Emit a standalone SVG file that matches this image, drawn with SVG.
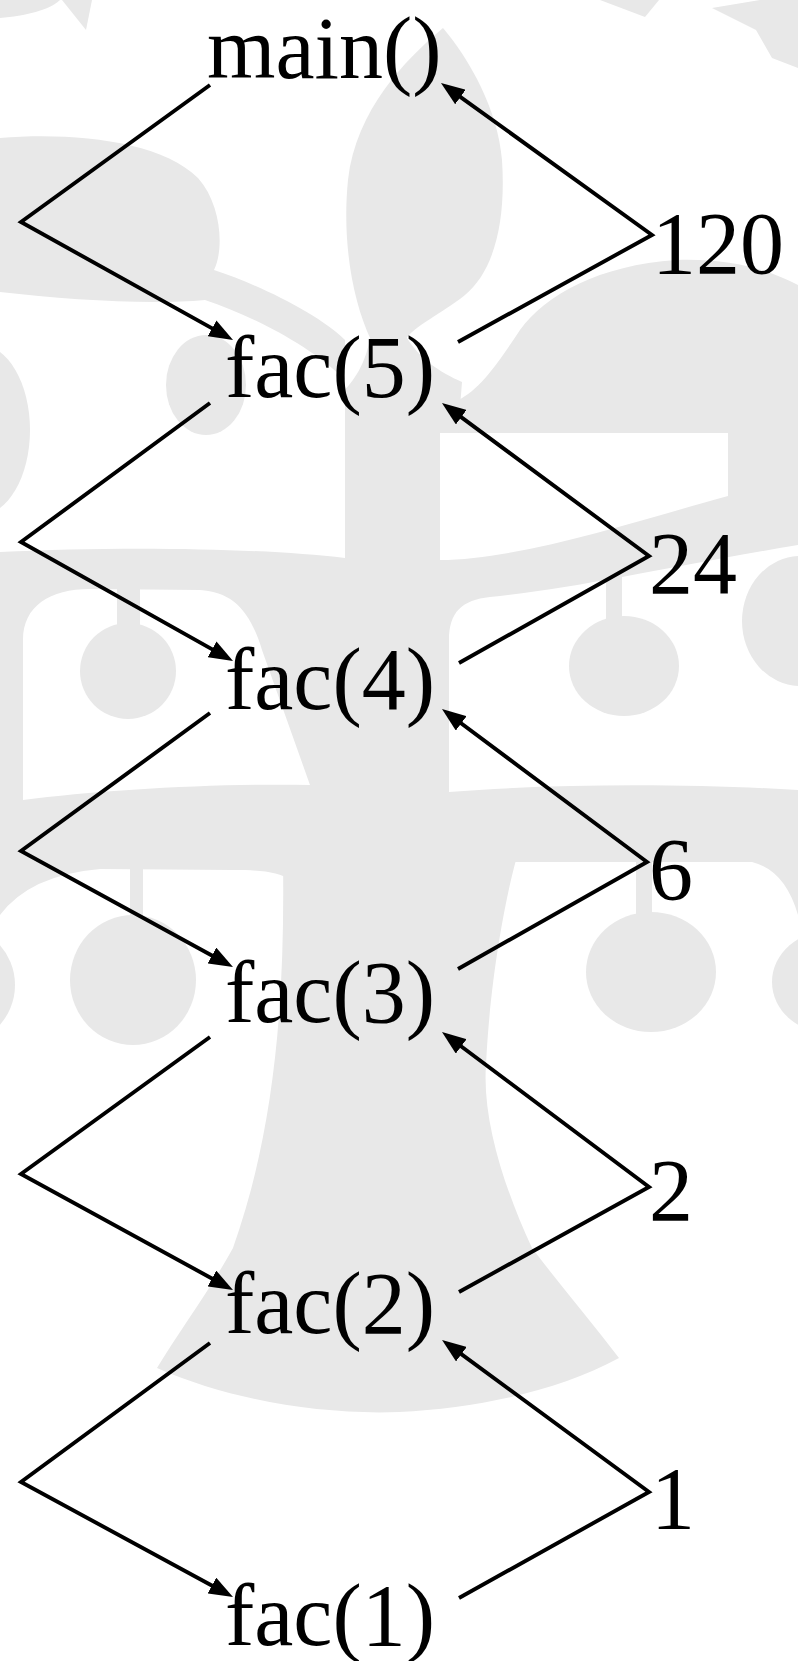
<svg xmlns="http://www.w3.org/2000/svg" width="798" height="1661" viewBox="0 0 798 1661">
<style>
.lbl{font-family:"Liberation Serif","Times New Roman",serif;font-size:88px;fill:#000}
.wm{fill:#e8e8e8}
.wmw{fill:#ffffff}
.edge{fill:none;stroke:#000;stroke-width:3.9;stroke-linejoin:miter;marker-end:url(#ah)}
</style>
<defs>
<marker id="ah" markerUnits="userSpaceOnUse" viewBox="0 0 24 18" markerWidth="24" markerHeight="18" refX="14" refY="9" orient="auto">
<path d="M0,0 L24,9 L0,18 Z" fill="#000"/>
</marker>
</defs>
<rect width="798" height="1661" fill="#ffffff"/>
<g id="watermark">
<path class="wm" d="M0,0 H60 C50,10 25,16 0,18 Z"/>
<path class="wm" d="M62,0 H92 L86,30 Z"/>
<path class="wm" d="M600,0 H659 L645,17 Z"/>
<path class="wm" d="M712,8 L760,0 H798 V68 L772,58 L756,30 Z"/>
<path class="wm" d="M0,138 C70,132 160,140 198,178 C222,205 224,250 214,270 C260,285 320,315 345,340 L345,380 C310,345 250,315 205,300 C150,305 70,300 0,292 Z"/>
<path class="wm" d="M443,28 C470,60 498,110 502,160 C506,220 495,270 465,295 C440,315 415,325 405,340 L371,340 C352,300 342,240 348,180 C356,110 405,60 443,28 Z"/>
<path class="wm" d="M458,433 L458,400 C480,390 500,360 520,330 C545,295 600,265 676,260 C730,258 770,270 798,285 V420 L728,420 L728,433 Z"/>
<path class="wm" d="M340,395 C355,380 365,365 371,335 L405,335 C420,360 440,372 462,382 L458,433 L440,433 L440,395 Z"/>
<ellipse class="wm" cx="206" cy="385" rx="40" ry="50"/>
<ellipse class="wm" cx="-20" cy="430" rx="50" ry="85"/>
<path class="wm" d="M0,552 C120,546 260,548 345,558 L345,395 L440,395 L440,560 C520,560 640,520 728,496 L728,420 L798,420 L798,915 Q785,870 752,862 L516,862 L290,880 C280,872 260,870 233,870 L100,869 Q30,875 0,915 Z"/>
<path class="wmw" d="M23,800 L23,640 C23,606 50,589 90,589 L200,590 C232,592 250,610 262,650 L310,785 C220,783 100,790 23,800 Z"/>
<path class="wmw" d="M449,792 L449,640 C449,612 462,600 490,597 C580,588 660,568 798,545 V790 C700,784 560,783 449,792 Z"/>
<path class="wm" d="M283,860 L516,860 C505,900 490,980 486,1065 C482,1120 505,1190 532,1248 C560,1285 590,1320 619,1358 C560,1390 480,1408 399,1412 C320,1415 230,1400 157,1368 C180,1330 210,1290 233,1248 C275,1130 285,1000 283,860 Z"/>
<ellipse class="wm" cx="133" cy="980" rx="63" ry="65"/>
<rect class="wm" x="130" y="860" width="13" height="60"/>
<ellipse class="wm" cx="651" cy="972" rx="65" ry="60"/>
<rect class="wm" x="636" y="855" width="16" height="60"/>
<ellipse class="wm" cx="832" cy="982" rx="60" ry="52"/>
<ellipse class="wm" cx="-45" cy="985" rx="60" ry="60"/>
<ellipse class="wm" cx="128" cy="671" rx="48" ry="48"/>
<rect class="wm" x="117" y="585" width="23" height="40"/>
<ellipse class="wm" cx="624" cy="666" rx="55" ry="50"/>
<rect class="wm" x="606" y="570" width="16" height="50"/>
<ellipse class="wm" cx="800" cy="621" rx="58" ry="65"/>
</g>
<g id="connectors">
<polyline class="edge" points="210,85 21,222 224.3,335.1"/>
<polyline class="edge" points="210,403 21,542 224.3,656.1"/>
<polyline class="edge" points="210,713 21,851 224.2,962.2"/>
<polyline class="edge" points="210,1037 21,1174 224.2,1285.2"/>
<polyline class="edge" points="210,1343 21,1482 224.2,1592.2"/>
<polyline class="edge" points="458,342 652,235 449.1,88.8"/>
<polyline class="edge" points="459,663 649,556 450,408.9"/>
<polyline class="edge" points="458,969 647,862 450,715"/>
<polyline class="edge" points="459,1292 649,1187 450,1038"/>
<polyline class="edge" points="459,1598 649,1492 450.1,1345.9"/>
</g>
<g id="node-main"><text class="lbl" x="207" y="78">main()</text></g>
<g id="node-fac5"><text class="lbl" x="225" y="397">fac(5)</text></g>
<g id="node-fac4"><text class="lbl" x="225" y="709">fac(4)</text></g>
<g id="node-fac3"><text class="lbl" x="225" y="1022">fac(3)</text></g>
<g id="node-fac2"><text class="lbl" x="225" y="1333">fac(2)</text></g>
<g id="node-fac1"><text class="lbl" x="225" y="1645">fac(1)</text></g>
<g id="ret-120"><text class="lbl" x="652" y="273">120</text></g>
<g id="ret-24"><text class="lbl" x="649" y="593">24</text></g>
<g id="ret-6"><text class="lbl" x="649" y="899">6</text></g>
<g id="ret-2"><text class="lbl" x="649" y="1220">2</text></g>
<g id="ret-1"><text class="lbl" x="651" y="1528">1</text></g>
</svg>
